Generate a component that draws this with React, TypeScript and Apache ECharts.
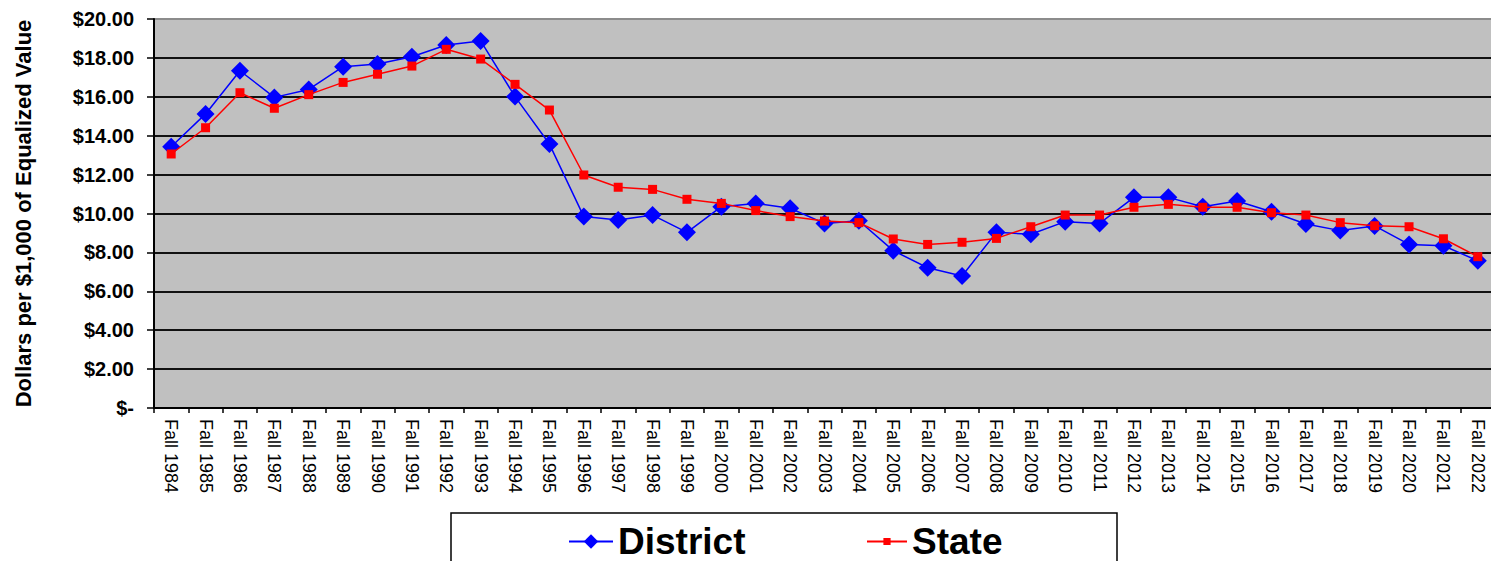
import React, { useEffect, useRef } from "react";
import * as echarts from "echarts";

const categories = [
  "Fall 1984", "Fall 1985", "Fall 1986", "Fall 1987", "Fall 1988", "Fall 1989", "Fall 1990",
  "Fall 1991", "Fall 1992", "Fall 1993", "Fall 1994", "Fall 1995", "Fall 1996", "Fall 1997",
  "Fall 1998", "Fall 1999", "Fall 2000", "Fall 2001", "Fall 2002", "Fall 2003", "Fall 2004",
  "Fall 2005", "Fall 2006", "Fall 2007", "Fall 2008", "Fall 2009", "Fall 2010", "Fall 2011",
  "Fall 2012", "Fall 2013", "Fall 2014", "Fall 2015", "Fall 2016", "Fall 2017", "Fall 2018",
  "Fall 2019", "Fall 2020", "Fall 2021", "Fall 2022",
];

const districtValues = [
  13.43, 15.12, 17.34, 15.97, 16.38, 17.55, 17.69, 18.06, 18.66, 18.87,
  16.01, 13.57, 9.84, 9.67, 9.92, 9.03, 10.35, 10.52, 10.27, 9.49,
  9.63, 8.09, 7.21, 6.79, 9.03, 8.93, 9.58, 9.49, 10.83, 10.83,
  10.35, 10.64, 10.09, 9.46, 9.12, 9.36, 8.41, 8.34, 7.57,
];

const stateValues = [
  13.06, 14.41, 16.21, 15.41, 16.11, 16.74, 17.16, 17.58, 18.44, 17.94,
  16.64, 15.32, 11.98, 11.35, 11.24, 10.73, 10.52, 10.15, 9.84, 9.61,
  9.53, 8.69, 8.41, 8.52, 8.72, 9.32, 9.92, 9.92, 10.32, 10.47,
  10.32, 10.32, 10.04, 9.92, 9.53, 9.37, 9.32, 8.70, 7.78,
];

const yTicks = [0, 2, 4, 6, 8, 10, 12, 14, 16, 18, 20];
const yAxisTitle = "Dollars per $1,000 of Equalized Value";
const seriesNames = ["District", "State"];

const FONT = "'Liberation Sans', Arial, sans-serif";

export default function App() {
  const ref = useRef<HTMLDivElement>(null);

  useEffect(() => {
    if (!ref.current) return;
    const chart = echarts.init(ref.current, undefined, { renderer: "svg" });
    const gridColors = yTicks.map((v, i) => (i === yTicks.length - 1 ? "#8c8c8c" : "#111111"));
    chart.setOption({
      animation: false,
      backgroundColor: "#ffffff",
      grid: {
        left: 154,
        top: 19,
        width: 1341,
        height: 389,
        show: true,
        backgroundColor: "#C0C0C0",
        borderWidth: 0,
        containLabel: false,
      },
      xAxis: {
        type: "category",
        data: categories,
        boundaryGap: true,
        axisLine: { show: true, lineStyle: { color: "#000", width: 2 } },
        axisTick: { show: true, alignWithLabel: false, length: 5, lineStyle: { color: "#000", width: 1.5 } },
        axisLabel: {
          interval: 0,
          rotate: -90,
          margin: 11,
          color: "#000",
          fontFamily: FONT,
          fontSize: 18,
        },
        splitLine: { show: false },
      },
      yAxis: {
        type: "value",
        min: 0,
        max: 20,
        interval: 2,
        name: yAxisTitle,
        nameLocation: "middle",
        nameGap: 120,
        nameTextStyle: { fontFamily: FONT, fontSize: 22, fontWeight: "bold", color: "#000" },
        axisLine: { show: true, lineStyle: { color: "#000", width: 2 } },
        axisTick: { show: true, length: 7, lineStyle: { color: "#000", width: 1.5 } },
        axisLabel: {
          margin: 20,
          color: "#000",
          fontFamily: FONT,
          fontSize: 20,
          fontWeight: "bold",
          formatter: (v: number) => (v === 0 ? "$-" : "$" + v.toFixed(2)),
        },
        splitLine: { show: true, lineStyle: { color: gridColors, width: 1.8 } },
      },
      legend: [
        {
          data: [seriesNames[0]],
          left: 568,
          top: 523,
          padding: 0,
          itemWidth: 44,
          itemHeight: 18,
          textStyle: { fontFamily: FONT, fontSize: 37, lineHeight: 37, fontWeight: "bold", color: "#000" },
        },
        {
          data: [seriesNames[1]],
          left: 866,
          top: 523,
          padding: 0,
          itemWidth: 40,
          itemHeight: 9,
          textStyle: { fontFamily: FONT, fontSize: 37, lineHeight: 37, fontWeight: "bold", color: "#000" },
        },
      ],
      graphic: [
        {
          type: "rect",
          z: -1,
          shape: { x: 451, y: 513, width: 666, height: 60 },
          style: { fill: "#fff", stroke: "#000", lineWidth: 1.5 },
        },
      ],
      series: [
        {
          name: seriesNames[0],
          type: "line",
          data: districtValues,
          symbol: "diamond",
          symbolSize: 18,
          lineStyle: { color: "#0000FF", width: 1.5 },
          itemStyle: { color: "#0000FF" },
          z: 2,
        },
        {
          name: seriesNames[1],
          type: "line",
          data: stateValues,
          symbol: "rect",
          symbolSize: 9,
          lineStyle: { color: "#FF0000", width: 1.5 },
          itemStyle: { color: "#FF0000" },
          z: 3,
        },
      ],
    });
    return () => chart.dispose();
  }, []);

  return (
    <div
      ref={ref}
      style={{ position: "fixed", left: 0, top: 0, width: 1500, height: 561 }}
    />
  );
}
